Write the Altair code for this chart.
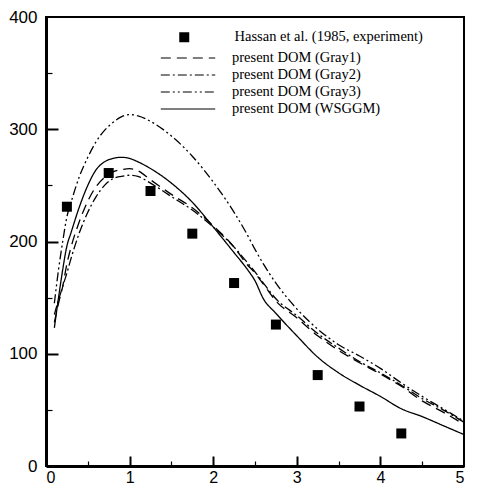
import altair as alt
import pandas as pd

# Experimental data (Hassan et al. 1985)
exp_name = "Hassan et al. (1985, experiment)"
x_exp = [0.25, 0.75, 1.25, 1.75, 2.25, 2.75, 3.25, 3.75, 4.25]
y_exp = [231, 261, 245, 207, 163, 126, 81, 53, 29]

# DOM predictions
x_grid = [0.1, 0.15, 0.2, 0.25, 0.3, 0.4, 0.5, 0.6, 0.7, 0.8, 0.9, 1.0, 1.1, 1.25,
          1.5, 1.75, 2.0, 2.25, 2.4, 2.5, 2.6, 2.75, 3.0, 3.25, 3.5, 3.75, 4.0,
          4.25, 4.5, 4.75, 5.0]
gray1 = [128, 145, 160, 180, 195, 218, 236, 249, 257, 262, 264, 265, 263, 255,
         242, 230, 214, 195, 180, 172, 162, 147, 132, 116, 103, 92, 82,
         71, 58, 48, 37]
gray2 = [135, 148, 160, 172, 185, 208, 226, 240, 250, 256, 258, 259, 258, 252,
         240, 228, 213, 195, 182, 173, 163, 149, 134, 118, 105, 93, 83,
         72, 60, 50, 39]
gray3 = [145, 175, 200, 222, 235, 258, 275, 289, 299, 306, 311, 313, 312, 307,
         294, 276, 253, 226, 207, 193, 180, 163, 140, 122, 108, 98, 87,
         74, 62, 51, 40]
wsggm = [123, 150, 175, 196, 208, 231, 250, 264, 271, 274, 275, 274, 271, 265,
         252, 235, 213, 190, 176, 165, 149, 136, 116, 97, 83, 72, 62,
         51, 44, 36, 28]

series_names = ["present DOM (Gray1)", "present DOM (Gray2)",
                "present DOM (Gray3)", "present DOM (WSGGM)"]
series_values = [gray1, gray2, gray3, wsggm]
dash_styles = [[10, 6], [9, 3, 2, 3], [9, 3, 2, 3, 2, 3], [1, 0]]

x_major = [1, 2, 3, 4]
x_minor = [0.5, 1.5, 2.5, 3.5, 4.5]
x_labels = [0, 1, 2, 3, 4, 5]
y_major = [100, 200, 300]
y_minor = [50, 150, 250, 350]
y_labels = [0, 100, 200, 300, 400]

rows = []
for name, vals in zip(series_names, series_values):
    for xv, yv in zip(x_grid, vals):
        rows.append({"x": xv, "y": yv, "series": name})
df_lines = pd.DataFrame(rows)
df_exp = pd.DataFrame({"x": x_exp, "y": y_exp, "label": [exp_name] * len(x_exp)})

W, H = 418, 449
AX_FONT = "Liberation Sans"
LG_FONT = "Liberation Serif"

def xs():
    return alt.Scale(domain=[0, 5], nice=False, zero=False)

def ys():
    return alt.Scale(domain=[0, 400], nice=False, zero=False)

lines = alt.Chart(df_lines).mark_line(color="black", strokeWidth=1.3, interpolate="monotone").encode(
    x=alt.X("x:Q", scale=xs(), axis=alt.Axis(
        orient="top", offset=-H, values=x_major, labels=False, domain=False,
        grid=False, title=None, tickSize=10, tickWidth=2, tickColor="black")),
    y=alt.Y("y:Q", scale=ys(), axis=alt.Axis(
        orient="right", offset=-W, values=y_major, labels=False, domain=False,
        grid=False, title=None, tickSize=12, tickWidth=2, tickColor="black")),
    strokeDash=alt.StrokeDash("series:N", scale=alt.Scale(domain=series_names, range=dash_styles),
        legend=alt.Legend(title=None, orient="none", legendX=133, legendY=32,
                          symbolType="M-3.4,0H3.4", symbolSize=256,
                          symbolStrokeColor="black", symbolStrokeWidth=1.2,
                          labelFont=LG_FONT, labelFontSize=14.5, labelColor="black",
                          labelOffset=35, rowPadding=1, padding=0, labelLimit=300)),
    order=alt.Order("x:Q"),
)

minor = alt.Chart(df_exp).mark_point(opacity=0).encode(
    x=alt.X("x:Q", scale=xs(), axis=alt.Axis(
        orient="top", offset=-H, values=x_minor, labels=False, domain=False,
        grid=False, title=None, tickSize=5, tickWidth=1.2, tickColor="black")),
    y=alt.Y("y:Q", scale=ys(), axis=alt.Axis(
        orient="right", offset=-W, values=y_minor, labels=False, domain=False,
        grid=False, title=None, tickSize=6, tickWidth=1.2, tickColor="black")),
)

points = alt.Chart(df_exp).mark_point(filled=True, color="black", size=100, opacity=1).encode(
    x=alt.X("x:Q", scale=xs(), axis=alt.Axis(
        orient="bottom", values=x_labels, format="d", title=None, grid=False,
        tickSize=0, labelPadding=3, domainWidth=3, domainColor="black",
        labelFont=AX_FONT, labelFontSize=16, labelColor="black")),
    y=alt.Y("y:Q", scale=ys(), axis=alt.Axis(
        orient="left", values=y_labels, format="d", title=None, grid=False,
        tickSize=0, labelPadding=9, domainWidth=3, domainColor="black",
        labelFont=AX_FONT, labelFontSize=17, labelColor="black")),
    shape=alt.Shape("label:N", scale=alt.Scale(domain=[exp_name], range=["square"]),
        legend=alt.Legend(title=None, orient="none", legendX=131, legendY=13,
                          symbolSize=100, symbolFillColor="black", symbolStrokeColor="black",
                          labelFont=LG_FONT, labelFontSize=14.5, labelColor="black",
                          labelOffset=43, padding=0, labelLimit=300)),
)

chart = alt.layer(lines, minor, points).resolve_scale(
    x="independent", y="independent", shape="independent", strokeDash="independent"
).properties(
    width=W, height=H,
    autosize=alt.AutoSizeParams(type="none"),
    padding={"left": 38, "top": 9, "right": 6, "bottom": 24},
).configure_view(stroke="black", strokeWidth=2)

chart.save("out.html", embed_options={"renderer": "svg", "actions": False})
